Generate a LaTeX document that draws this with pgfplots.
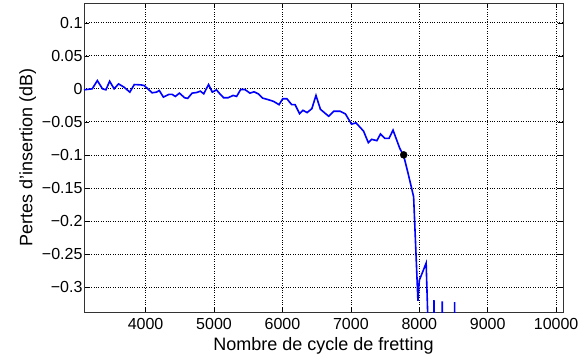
\documentclass[border=0pt]{standalone}
\usepackage{pgfplots}
\pgfplotsset{compat=1.18}
\usepackage{fontspec}
\setmainfont{Liberation Sans}
\begin{document}
\begin{tikzpicture}
\begin{axis}[
  scale only axis,
  width=479pt, height=309pt,
  xmin=3100, xmax=10100,
  ymin=-0.338, ymax=0.13,
  xtick={4000,5000,6000,7000,8000,9000,10000},
  ytick={-0.3,-0.25,-0.2,-0.15,-0.1,-0.05,0,0.05,0.1},
  yticklabels={−0.3,−0.25,−0.2,−0.15,−0.1,−0.05,0,0.05,0.1},
  xticklabel style={yshift=-3pt},
  x tick label style={/pgf/number format/fixed, /pgf/number format/set thousands separator={}},
  scaled x ticks=false,
  /pgf/number format/assume math mode=true,
  tick label style={font=\fontsize{16}{18}\selectfont},
  yticklabel style={xshift=2pt},
  label style={font=\fontsize{18}{20}\selectfont},
  xlabel={Nombre de cycle de fretting},
  ylabel={Pertes d'insertion (dB)},
  xlabel style={yshift=-1pt},
  ylabel style={yshift=-1pt},
  grid=major,
  major grid style={black, dotted, line width=0.7pt},
  axis line style={black!80, line width=0.8pt},
  tick align=inside,
  major tick length=5pt,
  tick style={black, line width=0.6pt},
]
\addplot[blue, line width=1.6pt] coordinates {
(3100,-0.0015) (3220,0) (3295,0.0125) (3370,0) (3420,-0.0015) (3475,0.0115)
(3540,0) (3605,0.0075) (3685,0.0025) (3770,-0.005) (3835,0.0065) (3930,0.006)
(3980,0.005) (4095,-0.006) (4160,-0.005) (4200,-0.0025) (4260,-0.0125) (4340,-0.0085)
(4390,-0.0085) (4435,-0.0115) (4495,-0.0065) (4570,-0.0135) (4615,-0.0145) (4680,-0.0065)
(4750,-0.0055) (4800,-0.0035) (4850,-0.0075) (4920,0.0065) (4975,-0.005) (5035,-0.0015)
(5085,-0.0075) (5140,-0.0135) (5205,-0.0135) (5280,-0.01) (5330,-0.0115) (5390,-0.001)
(5450,-0.001) (5525,-0.0065) (5585,-0.0045) (5645,-0.0075) (5710,-0.014) (5795,-0.0165)
(5870,-0.019) (5950,-0.024) (6005,-0.015) (6065,-0.015) (6135,-0.024) (6185,-0.024)
(6250,-0.0375) (6300,-0.0325) (6360,-0.036) (6430,-0.03) (6490,-0.01) (6555,-0.031)
(6675,-0.0415) (6750,-0.034) (6845,-0.034) (6920,-0.038) (7010,-0.0535) (7075,-0.0515)
(7185,-0.064) (7255,-0.0815) (7305,-0.0765) (7380,-0.0785) (7432,-0.0685) (7495,-0.075)
(7558,-0.075) (7616,-0.0625) (7714,-0.09) (7772,-0.1015) (7835,-0.1275) (7917,-0.1635)
(7980,-0.321) (8000,-0.29) (8100,-0.264) (8140,-0.40)
(8200,-0.6) (8214,-0.32) (8228,-0.6) (8320,-0.6) (8336,-0.322) (8350,-0.6)
(8500,-0.6) (8516,-0.323) (8530,-0.6)
};
\addplot[only marks, mark=*, mark size=3.5pt, black] coordinates {(7772,-0.1)};
\end{axis}
\pgfresetboundingbox
\path[use as bounding box] ([shift={(-84pt,-48pt)}]current axis.south west) rectangle ([shift={(22pt,3pt)}]current axis.north east);
\end{tikzpicture}
\end{document}
